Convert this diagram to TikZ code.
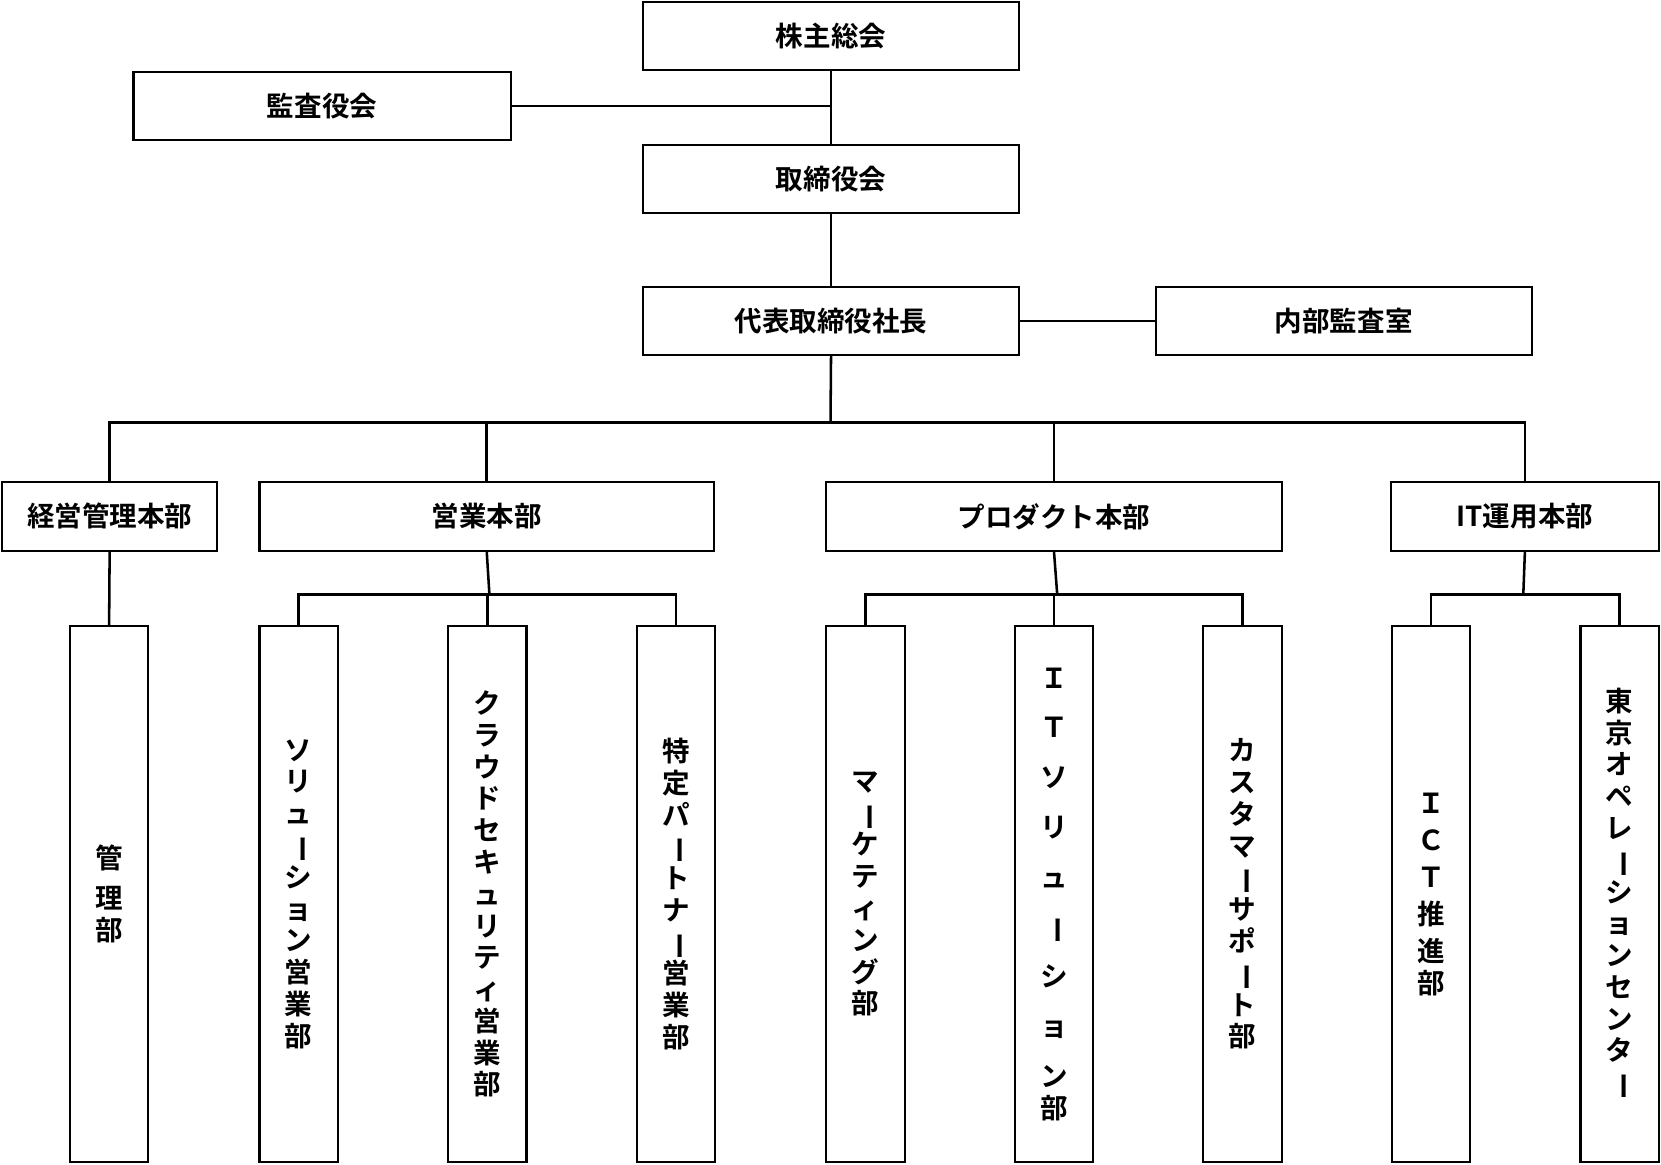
\documentclass[tikz,border=0pt]{standalone}
\usepackage{fontspec}
\usepackage{graphicx}
\setmainfont{Noto Sans CJK JP}[BoldFont={* Bold}]
\newcommand{\vb}{\rotatebox[origin=c]{-90}{ー}}
\begin{document}
\begin{tikzpicture}[x=0.5pt,y=-0.5pt,
  bx/.style={draw,line width=1pt,inner sep=0pt,font=\bfseries\fontsize{13}{15}\selectfont},
  vbx/.style={bx,align=center},
  ln/.style={line width=1.2pt}]
\useasboundingbox[fill=white] (0,0) rectangle (1568,1099);
\newcommand{\hb}[5]{\node[bx,minimum width={(#3-#2)*0.5pt},minimum height={(#5-#4)*0.5pt}] (#1) at ({(#2+#3)/2},{(#4+#5)/2}) {};}
% top level
\node[bx,minimum width=177.5pt,minimum height=32pt] (kabu) at (784.5,34) {株主総会};
\node[bx,minimum width=178pt,minimum height=32pt] (kansa) at (304,100) {監査役会};
\node[bx,minimum width=177.5pt,minimum height=32pt] (tori) at (784.5,169) {取締役会};
\node[bx,minimum width=177.5pt,minimum height=32pt] (pres) at (784.5,303) {代表取締役社長};
\node[bx,minimum width=177.5pt,minimum height=32pt] (naibu) at (1268.5,303) {内部監査室};
% level 2
\node[bx,minimum width=101.5pt,minimum height=32.5pt] (keiei) at (103.5,487.5) {経営管理本部};
\node[bx,minimum width=214.5pt,minimum height=32.5pt] (eigyo) at (459.5,487.5) {営業本部};
\node[bx,minimum width=215pt,minimum height=32.5pt] (prod) at (995,487.5) {プロダクト本部};
\node[bx,minimum width=126.5pt,minimum height=32.5pt] (itu) at (1439.5,487.5) {IT運用本部};
% level 3
\tikzset{l3/.style={vbx,minimum width=37pt,minimum height=253pt,text width=37pt}}
\node[l3] (kanri) at (103,844) {\fontsize{13}{19}\selectfont 管\\理\\部};
\node[l3] (sol) at (282,844) {ソ\\リ\\ュ\\\vb\\シ\\ョ\\ン\\営\\業\\部};
\node[l3] (cloud) at (460,844) {ク\\ラ\\ウ\\ド\\セ\\キ\\ュ\\リ\\テ\\ィ\\営\\業\\部};
\node[l3] (toku) at (638,844) {特\\定\\パ\\\vb\\ト\\ナ\\\vb\\営\\業\\部};
\node[l3] (mark) at (817,844) {マ\\\vb\\ケ\\テ\\ィ\\ン\\グ\\部};
\node[l3] (itsol) at (995,844) {\fontsize{13}{23.5}\selectfont Ｉ\\Ｔ\\ソ\\リ\\ュ\\\vb\\シ\\ョ\\ン\\部};
\node[l3] (cust) at (1173,844) {カ\\ス\\タ\\マ\\\vb\\サ\\ポ\\\vb\\ト\\部};
\node[l3] (ict) at (1351,844) {\fontsize{13}{17.5}\selectfont Ｉ\\Ｃ\\Ｔ\\推\\進\\部};
\node[l3] (tokyo) at (1529,844) {東\\京\\オ\\ペ\\レ\\\vb\\シ\\ョ\\ン\\セ\\ン\\タ\\\vb};
% connectors
\draw[ln] (kabu.south) -- (tori.north);
\coordinate (j1) at (784,100);
\draw[ln] (kansa.east) -- (j1);
\draw[ln] (tori.south) -- (pres.north);
\draw[ln] (pres.east) -- (naibu.west);
\coordinate (bus) at (784,399);
\draw[ln] (pres.south) -- (bus);
\draw[ln] (keiei.north) |- (bus) -| (itu.north);
\draw[ln] (eigyo.north |- bus) -- (eigyo.north);
\draw[ln] (prod.north |- bus) -- (prod.north);
\draw[ln] (keiei.south) -- (kanri.north);
\coordinate (b2) at (462,561);
\draw[ln] (eigyo.south) -- (b2);
\draw[ln] (sol.north) |- (b2) -| (toku.north);
\draw[ln] (cloud.north |- b2) -- (cloud.north);
\coordinate (b3) at (998,561);
\draw[ln] (prod.south) -- (b3);
\draw[ln] (mark.north) |- (b3) -| (cust.north);
\draw[ln] (itsol.north |- b3) -- (itsol.north);
\coordinate (b4) at (1438,561);
\draw[ln] (itu.south) -- (b4);
\draw[ln] (ict.north) |- (b4) -| (tokyo.north);
\end{tikzpicture}
\end{document}
